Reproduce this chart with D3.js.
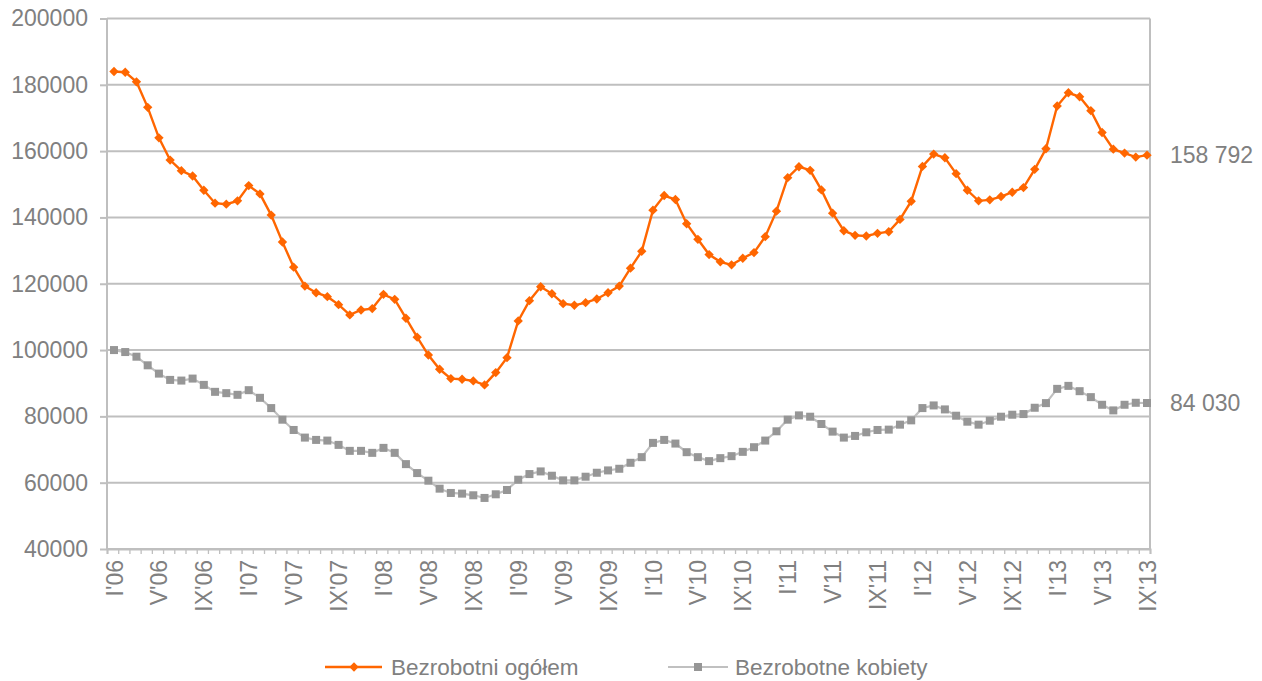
<!DOCTYPE html>
<html>
<head>
<meta charset="utf-8">
<script src="https://cdn.jsdelivr.net/npm/d3@7"></script>
<style>
  body { margin: 0; background: #fff; }
  text { font-family: "Liberation Sans", Arial, sans-serif; }
</style>
</head>
<body>
<script>
'use strict';

// month and year names for the category axis
const months = ["I", "II", "III", "IV", "V", "VI", "VII", "VIII", "IX", "X", "XI", "XII"];
const years = ["06", "07", "08", "09", "10", "11", "12", "13"];
const lastMonthCount = 9; // 2013 ends in IX

const categories = [];
years.forEach((yy, yi) => {
  const n = yi === years.length - 1 ? lastMonthCount : 12;
  for (let m = 0; m < n; m++) categories.push(months[m] + "'" + yy);
});

// Bezrobotni ogółem
const ogolem = [
  184000, 183800, 180900, 173200, 164000, 157300, 154100, 152500, 148200, 144300, 144000, 145000,
  149600, 147100, 140700, 132600, 125000, 119300, 117300, 116100, 113700, 110600, 112100, 112500,
  116800, 115300, 109600, 103900, 98500, 94200, 91400, 91200, 90700, 89500, 93200, 97700,
  108800, 114900, 119100, 117000, 114000, 113500, 114300, 115400, 117300, 119300, 124700, 129800,
  142200, 146600, 145400, 138100, 133400, 128800, 126600, 125700, 127700, 129400, 134200, 141900,
  152000, 155300, 154200, 148300, 141300, 136000, 134600, 134400, 135200, 135700, 139400, 144900,
  155400, 159100, 158000, 153200, 148200, 145000, 145300, 146300, 147600, 149000, 154500, 160700,
  173600, 177600, 176400, 172200, 165600, 160600, 159400, 158200, 158792
];

// Bezrobotne kobiety
const kobiety = [
  100000, 99400, 98000, 95400, 92900, 91000, 90800, 91400, 89500, 87400, 87000, 86500,
  87900, 85600, 82500, 79000, 75900, 73600, 72900, 72700, 71400, 69600, 69600, 69000,
  70500, 69000, 65600, 62900, 60600, 58200, 56900, 56700, 56200, 55400, 56500, 57800,
  60900, 62600, 63400, 62100, 60700, 60700, 61800, 63000, 63700, 64200, 66000, 67700,
  72000, 72900, 71800, 69200, 67700, 66500, 67400, 68000, 69300, 70700, 72700, 75500,
  79000, 80300, 79900, 77700, 75400, 73600, 74100, 75200, 75900, 76000, 77500, 78800,
  82500, 83300, 82100, 80200, 78400, 77500, 78700, 79900, 80500, 80700, 82600, 84000,
  88300, 89200, 87600, 85800, 83500, 81800, 83500, 84100, 84030
];

const yTicks = [40000, 60000, 80000, 100000, 120000, 140000, 160000, 180000, 200000];
const seriesNames = ["Bezrobotni ogółem", "Bezrobotne kobiety"];
const endLabels = ["158 792", "84 030"];

(function() {
  const W = 1262, H = 681;
  const plotLeft = 107, plotRight = 1150, plotTop = 18.5, plotBottom = 549;
  const gridColor = "#bfbfbf", textColor = "#808080";
  const orange = "#ff6600", greyMark = "#969696", greyLine = "#c0c0c0";

  const svg = d3.select("body").append("svg")
    .attr("width", W)
    .attr("height", H);

  // points sit between the month ticks, nudged as in the original
  const x = d3.scalePoint().domain(categories).range([114, 1147]);
  const y = d3.scaleLinear().domain([40000, 200000]).range([plotBottom, plotTop]);

  // y ticks + labels
  const yAxis = svg.append("g")
    .attr("transform", "translate(" + plotLeft + ",0)")
    .call(d3.axisLeft(y).tickValues(yTicks).tickFormat(d3.format("d")).tickSize(7).tickPadding(12));
  yAxis.select(".domain").remove();
  yAxis.selectAll(".tick line").attr("stroke", gridColor).attr("stroke-width", 2);
  yAxis.selectAll(".tick text")
    .attr("fill", textColor)
    .attr("font-size", "23px")
    .attr("font-family", "Liberation Sans, Arial, sans-serif");

  // horizontal gridlines
  svg.append("g").selectAll("line")
    .data(yTicks)
    .enter().append("line")
      .attr("x1", plotLeft)
      .attr("x2", plotRight)
      .attr("y1", d => y(d))
      .attr("y2", d => y(d))
      .attr("stroke", gridColor)
      .attr("stroke-width", 2);

  // left axis and right border
  svg.append("line")
    .attr("x1", plotLeft).attr("x2", plotLeft)
    .attr("y1", plotTop).attr("y2", plotBottom)
    .attr("stroke", gridColor).attr("stroke-width", 2);
  svg.append("line")
    .attr("x1", plotRight).attr("x2", plotRight)
    .attr("y1", plotTop).attr("y2", plotBottom)
    .attr("stroke", gridColor).attr("stroke-width", 2);

  // minor month ticks at category edges
  const edges = d3.scaleLinear().domain([0, categories.length]).range([plotLeft, plotRight]);
  const minor = svg.append("g")
    .attr("transform", "translate(0," + plotBottom + ")")
    .call(d3.axisBottom(edges).tickValues(d3.range(0, categories.length + 1)).tickFormat("").tickSize(5));
  minor.select(".domain").attr("stroke", gridColor).attr("stroke-width", 2);
  minor.selectAll(".tick line").attr("stroke", gridColor).attr("stroke-width", 1.3);

  // rotated month labels every 4 months
  const xAxis = svg.append("g")
    .attr("transform", "translate(0," + plotBottom + ")")
    .call(d3.axisBottom(x).tickValues(categories.filter((d, i) => i % 4 === 0)).tickSize(0));
  xAxis.select(".domain").remove();
  xAxis.selectAll(".tick text")
    .attr("fill", textColor)
    .attr("font-size", "23px")
    .attr("font-family", "Liberation Sans, Arial, sans-serif")
    .attr("transform", "rotate(-90)")
    .attr("text-anchor", "end")
    .attr("x", -11)
    .attr("y", 0)
    .attr("dy", "0.35em");

  // lines
  const line = d3.line()
    .x((d, i) => x(categories[i]))
    .y(d => y(d));

  svg.append("path")
    .datum(kobiety)
    .attr("fill", "none")
    .attr("stroke", greyLine)
    .attr("stroke-width", 2.2)
    .attr("d", line);

  svg.append("g").selectAll("rect")
    .data(kobiety)
    .enter().append("rect")
      .attr("x", (d, i) => x(categories[i]) - 4)
      .attr("y", d => y(d) - 4)
      .attr("width", 8)
      .attr("height", 8)
      .attr("fill", greyMark);

  svg.append("path")
    .datum(ogolem)
    .attr("fill", "none")
    .attr("stroke", orange)
    .attr("stroke-width", 2.4)
    .attr("d", line);

  const diamond = d3.symbol().type(d3.symbolDiamond2).size(56);
  svg.append("g").selectAll("path")
    .data(ogolem)
    .enter().append("path")
      .attr("d", diamond)
      .attr("transform", (d, i) => "translate(" + x(categories[i]) + "," + y(d) + ")")
      .attr("fill", orange);

  // end value labels
  svg.append("text")
    .attr("x", 1170)
    .attr("y", y(ogolem[ogolem.length - 1]))
    .attr("dy", "0.35em")
    .attr("fill", textColor)
    .attr("font-size", "23px")
    .text(endLabels[0]);

  svg.append("text")
    .attr("x", 1170)
    .attr("y", y(kobiety[kobiety.length - 1]))
    .attr("dy", "0.35em")
    .attr("fill", textColor)
    .attr("font-size", "23px")
    .text(endLabels[1]);

  // legend
  const legend = svg.append("g");
  const legendY = 667;

  legend.append("line")
    .attr("x1", 325).attr("x2", 382)
    .attr("y1", legendY).attr("y2", legendY)
    .attr("stroke", orange).attr("stroke-width", 2.4);
  legend.append("path")
    .attr("d", diamond)
    .attr("transform", "translate(354," + legendY + ")")
    .attr("fill", orange);
  legend.append("text")
    .attr("x", 391).attr("y", legendY)
    .attr("dy", "0.35em")
    .attr("fill", textColor)
    .attr("font-size", "22.5px")
    .text(seriesNames[0]);

  legend.append("line")
    .attr("x1", 668).attr("x2", 728)
    .attr("y1", legendY).attr("y2", legendY)
    .attr("stroke", greyLine).attr("stroke-width", 2.2);
  legend.append("rect")
    .attr("x", 694).attr("y", legendY - 4)
    .attr("width", 8).attr("height", 8)
    .attr("fill", greyMark);
  legend.append("text")
    .attr("x", 735).attr("y", legendY)
    .attr("dy", "0.35em")
    .attr("fill", textColor)
    .attr("font-size", "22.5px")
    .text(seriesNames[1]);
})();
</script>
</body>
</html>
